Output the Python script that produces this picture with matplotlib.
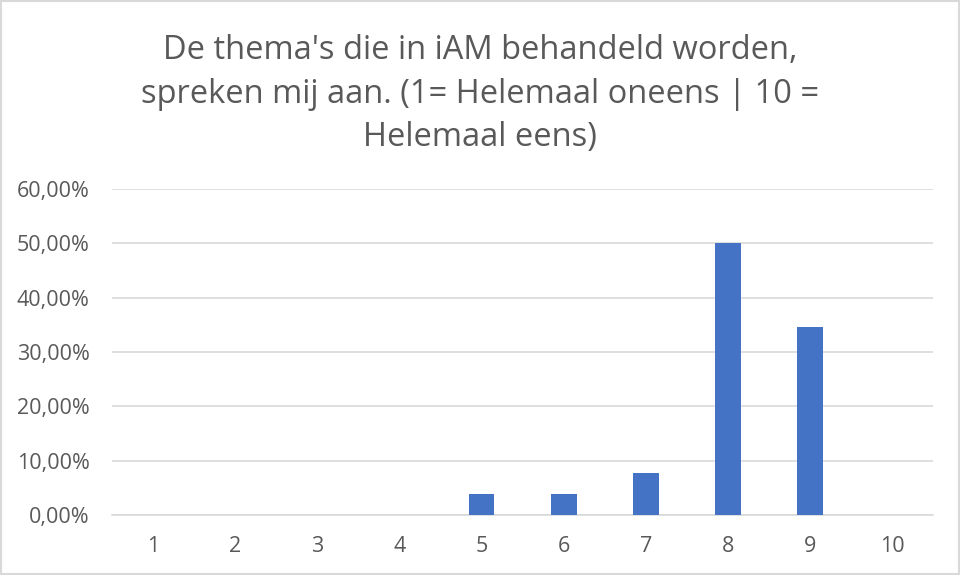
import matplotlib
matplotlib.use("Agg")
import matplotlib.pyplot as plt
from matplotlib.ticker import FuncFormatter, MultipleLocator
from matplotlib.patches import Rectangle

# answer scale and share of respondents (%)
categories = ["1", "2", "3", "4", "5", "6", "7", "8", "9", "10"]
percentages = [0, 0, 0, 0, 3.85, 3.85, 7.69, 50.0, 34.62, 0]

TITLE = ("De thema's die in iAM behandeld worden,\n"
         "spreken mij aan. (1= Helemaal oneens | 10 =\n"
         "Helemaal eens)")

TEXT_GREY = "#595959"
GRID_GREY = "#d9d9d9"
BAR_BLUE = "#4472c4"

plt.rcParams["font.family"] = ["Open Sans", "DejaVu Sans"]

fig = plt.figure(figsize=(9.6, 5.75), dpi=100)
ax = fig.add_axes([0.1167, 0.1043, 0.8553, 0.567])

x = list(range(len(categories)))
ax.bar(x, percentages, width=0.316, color=BAR_BLUE, zorder=3)

ax.set_xlim(-0.5, len(categories) - 0.5)
ax.set_ylim(0, 60)
ax.yaxis.set_major_locator(MultipleLocator(10))
ax.yaxis.set_major_formatter(FuncFormatter(lambda v, _: f"{v:.2f}%".replace(".", ",")))
ax.set_xticks(x)
ax.set_xticklabels(categories)

ax.grid(axis="y", color=GRID_GREY, linewidth=1.2, zorder=0)
for side in ["top", "right", "left"]:
    ax.spines[side].set_visible(False)
ax.spines["bottom"].set_color(GRID_GREY)
ax.spines["bottom"].set_linewidth(1.2)
ax.tick_params(axis="both", length=0, labelsize=15.5, labelcolor=TEXT_GREY)
ax.tick_params(axis="x", pad=15)
ax.tick_params(axis="y", pad=16)

fig.text(0.5, 0.836, TITLE, ha="center", va="center", fontsize=23.5,
         color=TEXT_GREY, linespacing=1.42)

# thin frame round the chart area
fig.patches.append(Rectangle((0.001, 0.001), 0.998, 0.998, transform=fig.transFigure,
                             fill=False, edgecolor="#d9d9d9", linewidth=1.5))

fig.savefig("out.png", dpi=100)
